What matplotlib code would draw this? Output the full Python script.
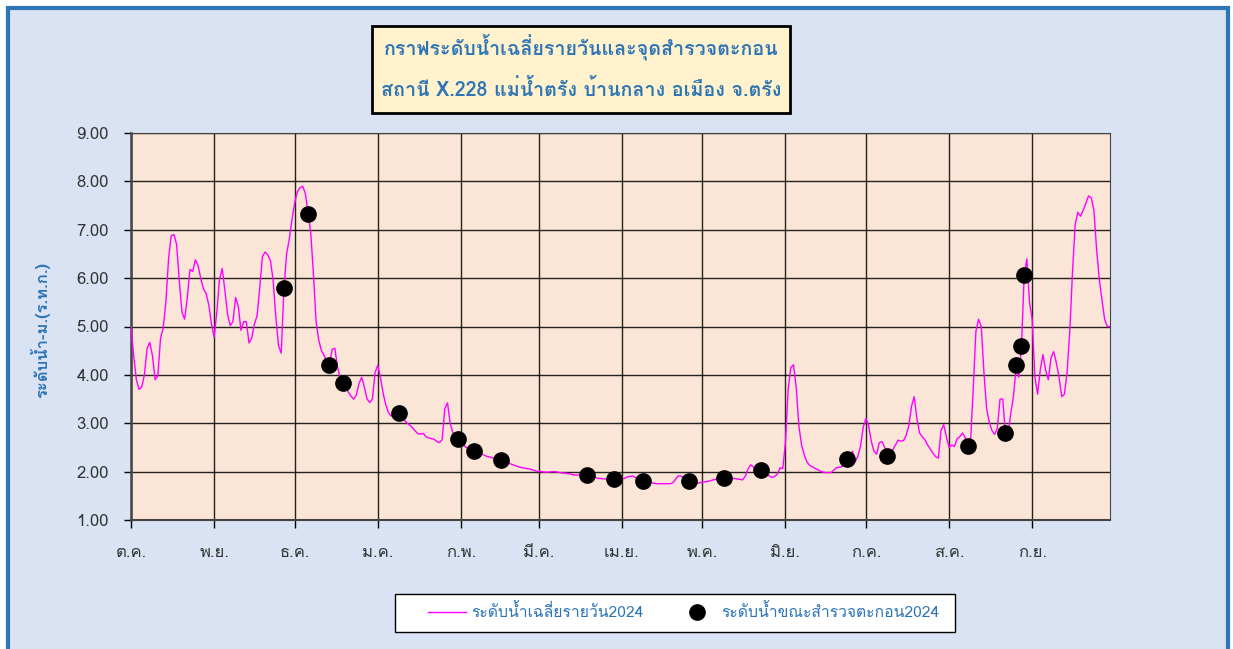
import numpy as np
import pandas as pd
import matplotlib
matplotlib.use('Agg')
import matplotlib.pyplot as plt
import matplotlib.dates as mdates
from matplotlib import font_manager, ft2font
from matplotlib.patches import Rectangle

# daily mean water level (m. MSL), Oct 2023 - Sep 2024
oct_lv = [5.0, 4.4, 3.9, 3.7, 3.75, 4.0, 4.55, 4.67, 4.4, 3.9, 3.98, 4.75, 4.97, 5.5, 6.4, 6.88,
          6.9, 6.7, 5.95, 5.3, 5.15, 5.6, 6.18, 6.14, 6.38, 6.26, 6.0, 5.78, 5.68, 5.45, 5.05]
nov_lv = [4.78, 5.3, 5.98, 6.2, 5.75, 5.25, 5.02, 5.1, 5.6, 5.42, 4.92, 5.1, 5.1, 4.66, 4.76,
          5.05, 5.22, 5.8, 6.45, 6.54, 6.48, 6.36, 5.95, 5.2, 4.6, 4.45, 5.75, 6.5, 6.8, 7.2]
dec_lv = [7.55, 7.78, 7.87, 7.9, 7.75, 7.35, 6.95, 6.1, 5.1, 4.72, 4.5, 4.4, 4.28, 4.22, 4.53, 4.55,
          4.15, 3.95, 3.84, 3.75, 3.65, 3.56, 3.5, 3.58, 3.82, 3.95, 3.75, 3.5, 3.43, 3.5, 4.05]
jan_lv = [4.2, 3.95, 3.62, 3.38, 3.22, 3.15, 3.14, 3.14, 3.2, 3.1, 3.06, 3.0, 2.96, 2.9, 2.84, 2.78,
          2.78, 2.79, 2.72, 2.7, 2.68, 2.67, 2.62, 2.6, 2.66, 3.3, 3.42, 3.0, 2.8, 2.72, 2.66]
feb_lv = [2.6, 2.55, 2.5, 2.47, 2.45, 2.43, 2.4, 2.38, 2.36, 2.33, 2.31, 2.3, 2.28, 2.27, 2.25,
          2.24, 2.21, 2.19, 2.17, 2.15, 2.13, 2.11, 2.09, 2.08, 2.07, 2.06, 2.05, 2.03, 2.01]
mar_lv = [2.0, 2.0, 1.99, 1.99, 1.99, 2.0, 2.0, 1.99, 1.98, 1.97, 1.97, 1.96, 1.95, 1.93, 1.93, 1.93,
          1.92, 1.93, 1.94, 1.92, 1.9, 1.88, 1.86, 1.86, 1.85, 1.85, 1.85, 1.86, 1.85, 1.85, 1.84]
apr_lv = [1.84, 1.86, 1.89, 1.9, 1.91, 1.88, 1.85, 1.83, 1.82, 1.8, 1.78, 1.77, 1.76, 1.75, 1.75,
          1.75, 1.75, 1.75, 1.75, 1.77, 1.84, 1.91, 1.91, 1.88, 1.85, 1.83, 1.8, 1.78, 1.76, 1.77]
may_lv = [1.78, 1.79, 1.8, 1.81, 1.83, 1.84, 1.86, 1.88, 1.89, 1.86, 1.84, 1.85, 1.86, 1.85, 1.84, 1.83,
          1.9, 2.05, 2.14, 2.1, 2.06, 2.04, 2.03, 2.0, 1.95, 1.91, 1.88, 1.9, 1.95, 2.08, 2.06]
jun_lv = [2.6, 3.7, 4.15, 4.21, 3.75, 2.95, 2.55, 2.35, 2.2, 2.13, 2.1, 2.07, 2.04, 2.01, 1.99,
          1.98, 1.98, 1.98, 2.03, 2.08, 2.09, 2.1, 2.18, 2.26, 2.32, 2.42, 2.2, 2.32, 2.53, 2.92]
jul_lv = [3.1, 2.95, 2.63, 2.42, 2.36, 2.6, 2.62, 2.5, 2.34, 2.4, 2.45, 2.55, 2.65, 2.63, 2.64, 2.75,
          2.95, 3.35, 3.55, 3.1, 2.8, 2.72, 2.66, 2.55, 2.47, 2.38, 2.31, 2.28, 2.85, 2.97, 2.72]
aug_lv = [2.5, 2.55, 2.52, 2.68, 2.72, 2.8, 2.7, 2.55, 2.62, 3.7, 4.9, 5.15, 5.0, 4.05, 3.3, 3.02,
          2.85, 2.77, 2.9, 3.5, 3.5, 2.8, 2.78, 3.2, 3.55, 4.15, 3.95, 4.6, 6.05, 6.4, 5.5]
sep_lv = [5.14, 3.95, 3.6, 4.1, 4.42, 4.1, 3.9, 4.35, 4.48, 4.25, 3.95, 3.55, 3.6, 4.05, 4.9,
          6.1, 7.1, 7.36, 7.28, 7.4, 7.55, 7.7, 7.66, 7.4, 6.6, 5.98, 5.55, 5.15, 5.0, 5.0]

# water level at the time of sediment sampling
survey_dates = ['2023-11-27', '2023-12-06', '2023-12-14', '2023-12-19', '2024-01-09', '2024-01-31',
                '2024-02-06', '2024-02-16', '2024-03-19', '2024-03-29', '2024-04-09', '2024-04-26',
                '2024-05-09', '2024-05-23', '2024-06-24', '2024-07-09', '2024-08-08', '2024-08-22',
                '2024-08-26', '2024-08-28', '2024-08-29']
survey_level = [5.80, 7.32, 4.20, 3.83, 3.22, 2.67, 2.43, 2.24, 1.94, 1.85, 1.81, 1.81,
                1.87, 2.03, 2.26, 2.33, 2.53, 2.79, 4.20, 4.60, 6.07]

month_labels = ['ต.ค.', 'พ.ย.', 'ธ.ค.', 'ม.ค.', 'ก.พ.', 'มี.ค.', 'เม.ย.', 'พ.ค.', 'มิ.ย.', 'ก.ค.', 'ส.ค.', 'ก.ย.']
title_lines = ['กราฟระดับน้ำเฉลี่ยรายวันและจุดสำรวจตะกอน', 'สถานี X.228 แม่น้ำตรัง บ้านกลาง อเมือง จ.ตรัง']
y_label = 'ระดับน้ำ-ม.(ร.ท.ก.)'
line_label = 'ระดับน้ำเฉลี่ยรายวัน2024'
dot_label = 'ระดับน้ำขณะสำรวจตะกอน2024'


def find_thai_font():
    # pick an installed font that has Thai glyphs
    for f in font_manager.fontManager.ttflist:
        if f.name == 'Loma':
            return 'Loma'
    for f in font_manager.fontManager.ttflist:
        try:
            cmap = ft2font.FT2Font(f.fname).get_charmap()
        except Exception:
            continue
        if 0x0E01 in cmap and 0x0E33 in cmap and 0x0E48 in cmap:
            return f.name
    return None


thai = find_thai_font()
plt.rcParams['font.family'] = [thai, 'DejaVu Sans'] if thai else ['DejaVu Sans']

levels = np.array(oct_lv + nov_lv + dec_lv + jan_lv + feb_lv + mar_lv +
                  apr_lv + may_lv + jun_lv + jul_lv + aug_lv + sep_lv)
days = pd.date_range('2023-10-01', '2024-09-30', freq='D')
sdays = pd.to_datetime(survey_dates)

blue = '#2e75b6'
W, H = 1233, 649
fig = plt.figure(figsize=(W / 100, H / 100), dpi=100)
fig.patch.set_facecolor('white')
fig.patches.append(Rectangle((8 / W, -0.02), 1220 / W, 1.02 - 8 / H,
                             transform=fig.transFigure, facecolor='#dae3f3',
                             edgecolor=blue, lw=3, zorder=-10))

ax = fig.add_axes([131 / W, 1 - 520 / H, 979 / W, 387 / H])
ax.set_facecolor('#fbe5d6')
ax.plot(days, levels, color='#ff00ff', lw=1, label=line_label, zorder=3)
ax.plot(sdays, survey_level, 'o', color='black', ms=11, label=dot_label, zorder=4)

ax.set_xlim(days[0], days[-1])
ax.set_ylim(1, 9)
ax.set_yticks(np.arange(1, 9.01, 1))
ax.yaxis.set_major_formatter(matplotlib.ticker.FormatStrFormatter('%.2f'))
ax.xaxis.set_major_locator(mdates.MonthLocator())
ax.xaxis.set_major_formatter(matplotlib.ticker.FuncFormatter(
    lambda v, pos: month_labels[(mdates.num2date(v).month - 10) % 12]))
ax.grid(True, color='black', lw=1, alpha=0.85)
ax.set_axisbelow(True)
ax.tick_params(axis='y', length=5, width=1, pad=11, labelsize=12, labelcolor='#333333')
ax.tick_params(axis='x', length=6, width=1, pad=12, labelsize=12, labelcolor='#333333')
for s in ax.spines.values():
    s.set_color('#444444')
ax.spines['left'].set_linewidth(1.8)
ax.spines['bottom'].set_linewidth(1.5)

ax.set_ylabel(y_label, color=blue, fontsize=12, fontweight='bold')
ax.yaxis.set_label_coords(-0.083, 0.49)

# title box
fig.patches.append(Rectangle((372 / W, 1 - 113 / H), 418 / W, 87 / H,
                             transform=fig.transFigure, facecolor='#fff2cc',
                             edgecolor='black', lw=2, zorder=5))
fig.text(581 / W, 1 - 47 / H, title_lines[0], ha='center', va='center',
         color=blue, fontsize=14.2, fontweight='bold', zorder=6)
fig.text(581 / W, 1 - 90 / H, title_lines[1], ha='center', va='center',
         color=blue, fontsize=14.2, fontweight='bold', zorder=6)

# legend box
fig.patches.append(Rectangle((395 / W, 1 - 632 / H), 560 / W, 38 / H,
                             transform=fig.transFigure, facecolor='white',
                             edgecolor='black', lw=1, zorder=5))
leg = fig.legend(loc='center left', bbox_to_anchor=(428 / W, 1 - 612 / H), ncol=2,
                 fontsize=11.3, frameon=False, borderpad=0, borderaxespad=0,
                 handlelength=2.4, handletextpad=0.35, columnspacing=2.2, labelcolor=blue)
leg.set_zorder(6)

fig.savefig('out.png', dpi=100, facecolor=fig.get_facecolor())
